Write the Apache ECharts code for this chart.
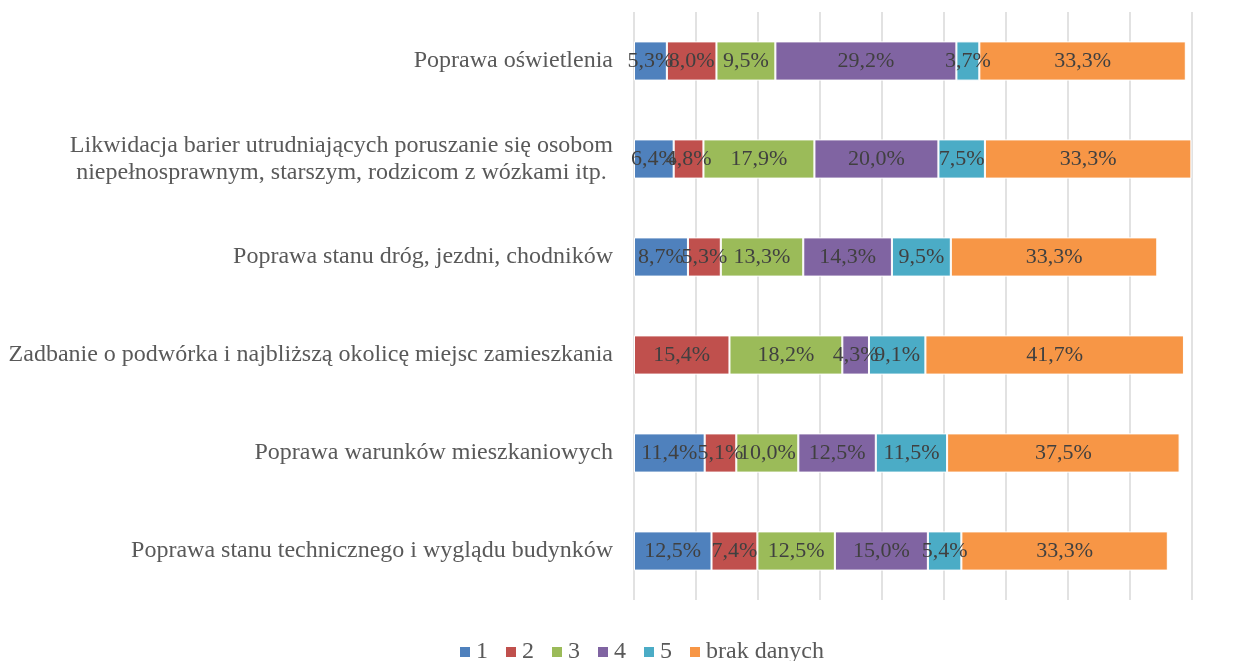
<!DOCTYPE html>
<html>
<head>
<meta charset="utf-8">
<script src="https://cdn.jsdelivr.net/npm/echarts@6/dist/echarts.min.js"></script>
<style>
  html, body { margin: 0; padding: 0; background: #fff; }
  #chart { width: 1243px; height: 661px; }
</style>
</head>
<body>
<div id="chart"></div>
<script>
// Categories listed top to bottom
const categories = [
  'Poprawa oświetlenia',
  'Likwidacja barier utrudniających poruszanie się osobom\nniepełnosprawnym, starszym, rodzicom z wózkami itp.',
  'Poprawa stanu dróg, jezdni, chodników',
  'Zadbanie o podwórka i najbliższą okolicę miejsc zamieszkania',
  'Poprawa warunków mieszkaniowych',
  'Poprawa stanu technicznego i wyglądu budynków'
];

const seriesNames = ['1', '2', '3', '4', '5', 'brak danych'];

// Share of answers (%) per category, one array per rating
const s1 = [5.3, 6.4, 8.7, null, 11.4, 12.5];
const s2 = [8.0, 4.8, 5.3, 15.4, 5.1, 7.4];
const s3 = [9.5, 17.9, 13.3, 18.2, 10.0, 12.5];
const s4 = [29.2, 20.0, 14.3, 4.3, 12.5, 15.0];
const s5 = [3.7, 7.5, 9.5, 9.1, 11.5, 5.4];
const sNone = [33.3, 33.3, 33.3, 41.7, 37.5, 33.3];

const seriesData = [s1, s2, s3, s4, s5, sNone];
const colors = ['#4F81BD', '#C0504D', '#9BBB59', '#8064A2', '#4BACC6', '#F79646'];

const FONT = '"Liberation Serif", "Times New Roman", serif';

const chart = echarts.init(document.getElementById('chart'), null, { renderer: 'canvas' });

const option = {
  animation: false,
  color: colors,
  grid: { left: 634, right: 51, top: 12, bottom: 61, containLabel: false },
  xAxis: {
    type: 'value',
    min: 0,
    max: 90,
    interval: 10,
    axisLabel: { show: false },
    axisLine: { show: false },
    axisTick: { show: false },
    splitLine: { show: true, lineStyle: { color: '#D9D9D9', width: 1.5 } }
  },
  yAxis: {
    type: 'category',
    inverse: true,
    data: categories,
    axisLine: { show: false },
    axisTick: { show: false },
    axisLabel: {
      margin: 21,
      formatter: function (v) {
        return v.split('\n').map(function (l) { return '{c|' + l + '}'; }).join('\n');
      },
      rich: {
        c: {
          align: 'center',
          fontFamily: FONT,
          fontSize: 24,
          lineHeight: 27,
          color: '#595959'
        }
      }
    }
  },
  legend: {
    bottom: -8,
    left: 453,
    itemWidth: 12,
    itemHeight: 12,
    itemGap: 16,
    icon: 'rect',
    textStyle: { fontFamily: FONT, fontSize: 24, color: '#595959' },
    data: seriesNames
  },
  series: seriesNames.map(function (name, i) {
    return {
      name: name,
      type: 'bar',
      stack: 'total',
      barCategoryGap: '60%',
      data: seriesData[i],
      itemStyle: { color: colors[i], borderColor: '#ffffff', borderWidth: 1 },
      label: {
        show: true,
        position: 'inside',
        fontFamily: FONT,
        fontSize: 22,
        color: '#404040',
        formatter: function (p) {
          return p.value == null ? '' : p.value.toFixed(1).replace('.', ',') + '%';
        }
      }
    };
  })
};

chart.setOption(option);
</script>
</body>
</html>
